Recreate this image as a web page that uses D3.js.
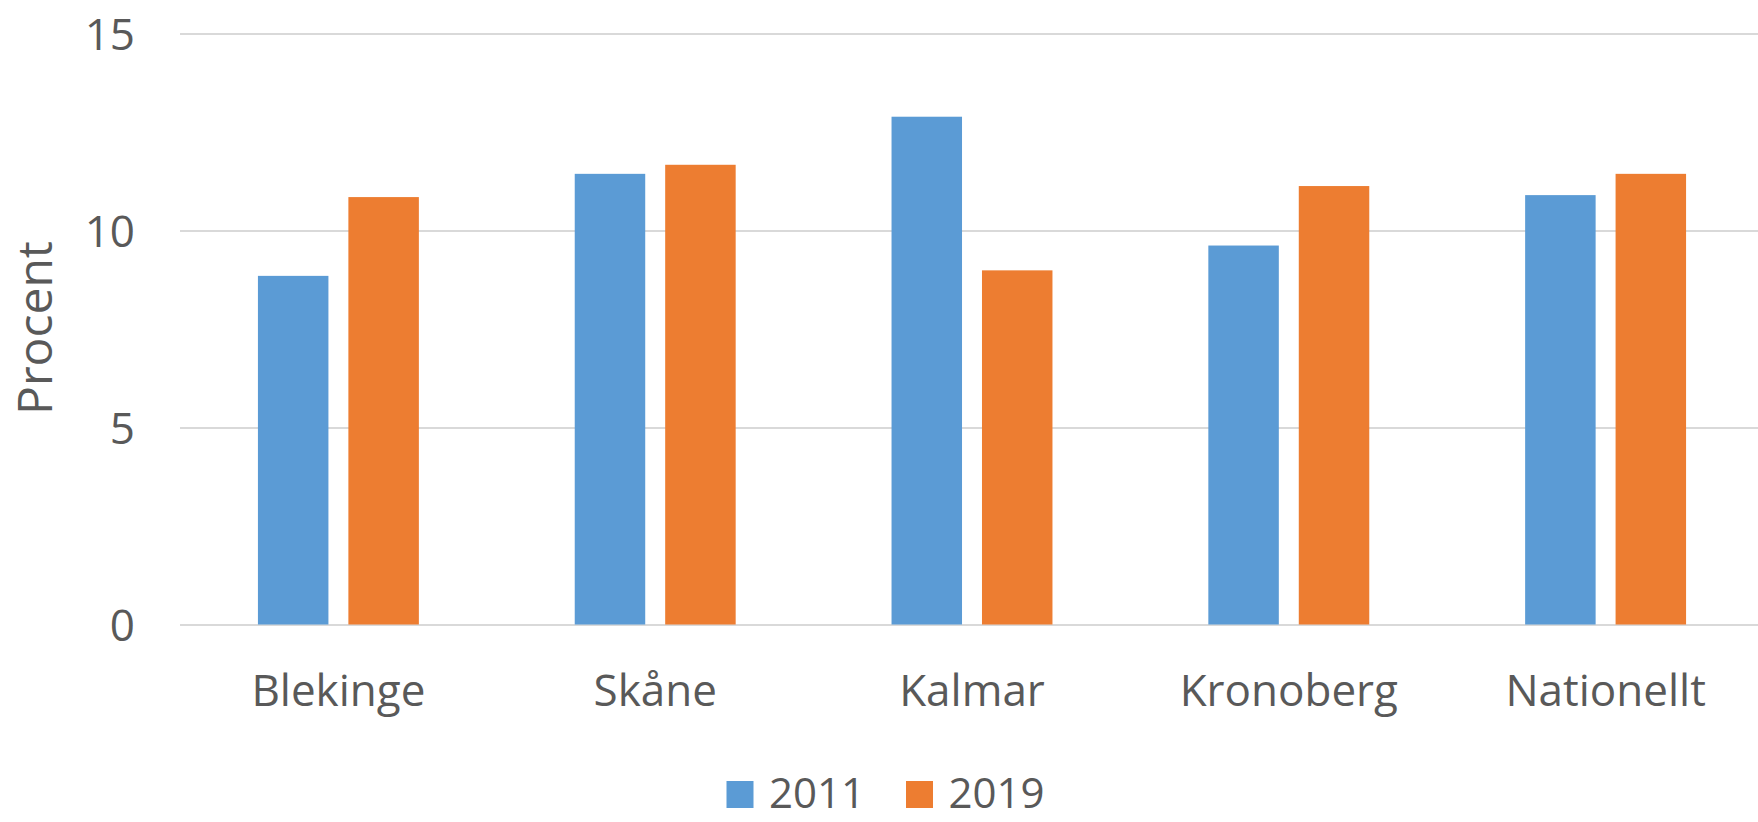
<!DOCTYPE html>
<html>
<head>
<meta charset="utf-8">
<script src="https://cdn.jsdelivr.net/npm/d3@7"></script>
<style>
  html, body { margin: 0; padding: 0; background: #fff; }
  svg { display: block; }
  text { font-family: "Open Sans", sans-serif; fill: #595959; }
</style>
</head>
<body>
<svg id="chart" width="1758" height="822"></svg>
<script>
const categories = ["Blekinge", "Skåne", "Kalmar", "Kronoberg", "Nationellt"];
const seriesNames = ["2011", "2019"];
const values2011 = [8.85, 11.44, 12.89, 9.62, 10.90];
const values2019 = [10.85, 11.67, 8.99, 11.13, 11.44];
const yTicks = [0, 5, 10, 15];
const colors = ["#5B9BD5", "#ED7D31"];

const svg = d3.select("#chart");
const plot = { left: 180, right: 1764, top: 33.6, bottom: 624.5 };

const x = d3.scaleBand().domain(categories).range([plot.left, plot.right]).paddingInner(0).paddingOuter(0);
const y = d3.scaleLinear().domain([0, 15]).range([plot.bottom, plot.top]);

// gridlines + y labels
const yAxis = svg.append("g")
  .attr("transform", `translate(${plot.left},0)`)
  .call(d3.axisLeft(y).tickValues(yTicks).tickSize(-(plot.right - plot.left)).tickPadding(45).tickFormat(d3.format("d")));
yAxis.select(".domain").remove();
yAxis.selectAll(".tick line").attr("stroke", "#d9d9d9").attr("stroke-width", 2);
yAxis.selectAll(".tick text").attr("font-size", 44).attr("fill", "#595959").attr("dy", "0.36em")
  .style("font-family", "'Open Sans', sans-serif");

// bars
const bw = x.bandwidth();
const barW = bw * 0.2225;
const innerGap = bw * 0.063;
const groupW = barW * 2 + innerGap;
const series = [values2011, values2019];
series.forEach((vals, si) => {
  svg.append("g").selectAll("rect")
    .data(categories.map((c, i) => ({ c, v: vals[i] })))
    .join("rect")
    .attr("x", d => x(d.c) + (bw - groupW) / 2 + si * (barW + innerGap))
    .attr("y", d => y(d.v))
    .attr("width", barW)
    .attr("height", d => y(0) - y(d.v))
    .attr("fill", colors[si]);
});

// category labels
const xAxis = svg.append("g")
  .attr("transform", `translate(0,${plot.bottom})`)
  .call(d3.axisBottom(x).tickSize(0).tickPadding(0));
xAxis.select(".domain").remove();
xAxis.selectAll(".tick text").attr("font-size", 44).attr("fill", "#595959")
  .attr("y", 81).attr("dy", 0)
  .style("font-family", "'Open Sans', sans-serif");

// y axis title
svg.append("text")
  .attr("transform", "translate(52,328) rotate(-90)")
  .attr("text-anchor", "middle")
  .attr("font-size", 48)
  .text("Procent");

// legend
const legendItems = [
  { name: seriesNames[0], color: colors[0], sx: 726.5, tx: 769 },
  { name: seriesNames[1], color: colors[1], sx: 906, tx: 948.5 }
];
const lg = svg.append("g");
legendItems.forEach(it => {
  lg.append("rect").attr("x", it.sx).attr("y", 781).attr("width", 27).attr("height", 27).attr("fill", it.color);
  lg.append("text").attr("x", it.tx).attr("y", 808).attr("font-size", 42).text(it.name);
});
</script>
</body>
</html>
